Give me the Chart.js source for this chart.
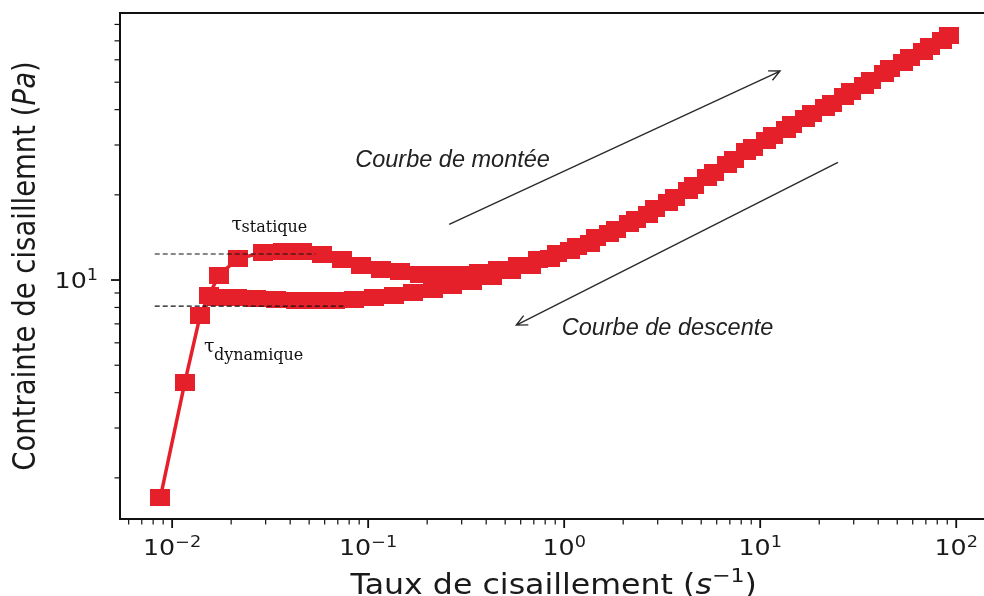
<!DOCTYPE html>
<html lang="fr">
<head>
<meta charset="utf-8">
<title>Contrainte de cisaillement</title>
<script src="https://cdn.jsdelivr.net/npm/chart.js@4.4.1/dist/chart.umd.min.js"></script>
<style>
  html, body { margin: 0; padding: 0; background: #fff; overflow: hidden; }
  #wrap { width: 1000px; height: 596px; }
</style>
</head>
<body>
<div id="wrap"><canvas id="rheo" width="1000" height="596"></canvas></div>
<script>
// courbe de montée : taux de cisaillement (1/s) et contrainte (Pa)
let upRate = [0.0087, 0.0116, 0.0139, 0.0154, 0.0173, 0.0217, 0.0292, 0.0367, 0.0462, 0.0582,
  0.0733, 0.0923, 0.116, 0.146, 0.184, 0.232, 0.292, 0.367, 0.462, 0.582, 0.733, 0.923,
  1.16, 1.46, 1.84, 2.32, 2.92, 3.67, 4.62, 5.82, 7.33, 9.23,
  11.6, 14.6, 18.4, 23.2, 29.2, 36.7, 46.2, 58.2, 73.3, 92.3];
let upStress = [1.70, 4.34, 7.5, 8.8, 10.4, 11.9, 12.5, 12.6, 12.6, 12.3,
  11.8, 11.3, 10.9, 10.7, 10.5, 10.45, 10.45, 10.6, 10.9, 11.3, 11.8, 12.4,
  13.1, 14.1, 15.1, 16.4, 17.9, 19.6, 21.6, 24.0, 26.6, 29.5,
  32.4, 35.4, 38.8, 42.2, 46.3, 50.8, 55.7, 61.1, 67.1, 73.3];

// courbe de descente
let downRate = [85.1, 67.6, 53.7, 42.7, 33.9, 26.9, 21.4, 17.0, 13.5, 10.7,
  8.51, 6.76, 5.37, 4.27, 3.39, 2.69, 2.14, 1.70, 1.35, 1.07,
  0.851, 0.676, 0.537, 0.427, 0.339, 0.269, 0.214, 0.170, 0.135, 0.107,
  0.0851, 0.0676, 0.0537, 0.0427, 0.0339, 0.0269, 0.0214, 0.0170];
let downStress = [70.4, 64.4, 58.7, 53.5, 48.8, 44.4, 40.6, 37.2, 34.1, 31.1,
  28.4, 25.6, 23.0, 20.8, 18.8, 17.1, 15.8, 14.6, 13.5, 12.7,
  11.9, 11.3, 10.8, 10.3, 9.9, 9.55, 9.25, 9.0, 8.8, 8.65,
  8.52, 8.44, 8.44, 8.5, 8.55, 8.6, 8.65, 8.7];

// seuils statique / dynamique (lignes pointillées)
let staticLine = [[0.00815, 12.36], [0.0539, 12.36]];
let dynamicLine = [[0.00815, 8.09], [0.0747, 8.09]];

// axes
let xRange = [0.00542, 144.4];
let yRange = [1.431, 87.8];
let xMajor = [0.01, 0.1, 1, 10, 100];
let yMajor = [10];

// flèches et textes, en coordonnées des données
let upArrow = [[0.259, 15.74], [12.63, 54.76]];
let downArrow = [[24.92, 26.05], [0.570, 6.93]];
let upText = {x: 0.0859, y: 25.07, text: 'Courbe de montée'};
let downText = {x: 0.971, y: 6.39, text: 'Courbe de descente'};
let tauStatic = {x: 0.0201, y: 15.02, sub: 'statique'};
let tauDynamic = {x: 0.01452, y: 5.57, sub: 'dynamique'};

const RED = '#e6202a';
const INK = '#111';
const STRETCH = 1.15; // les textes des axes sont un peu élargis

// marqueur carré légèrement plus large que haut
let square = document.createElement('canvas');
square.width = 20;
square.height = 17;
let sq = square.getContext('2d');
sq.fillStyle = RED;
sq.fillRect(0, 0, 20, 17);

function pts(xs, ys) {
  return xs.map((x, i) => ({x: x, y: ys[i]}));
}

function logTicks(min, max, majors) {
  let ticks = [];
  for (let e = Math.floor(Math.log10(min)); e <= Math.ceil(Math.log10(max)); e++) {
    for (let n = 1; n <= 9; n++) {
      let v = n * Math.pow(10, e);
      if (v >= min && v <= max) {
        ticks.push({value: v, major: majors.some(m => Math.abs(m - v) / m < 1e-9)});
      }
    }
  }
  return ticks;
}

function expLabel(v) {
  return String(Math.round(Math.log10(v))).replace('-', '\u2212');
}

// suite de morceaux de texte {text, font, dy}
function drawRuns(ctx, runs, x, y, align) {
  let total = 0;
  runs.forEach(r => { ctx.font = r.font; r.w = ctx.measureText(r.text).width; total += r.w; });
  let left = align === 'center' ? x - total / 2 : (align === 'right' ? x - total : x);
  runs.forEach(r => {
    ctx.font = r.font;
    ctx.fillText(r.text, left, y + (r.dy || 0));
    left += r.w;
  });
}

function drawArrow(ctx, x0, y0, x1, y1) {
  let ang = Math.atan2(y1 - y0, x1 - x0);
  ctx.beginPath();
  ctx.moveTo(x0, y0);
  ctx.lineTo(x1, y1);
  ctx.moveTo(x1 - 12 * Math.cos(ang - 0.45), y1 - 12 * Math.sin(ang - 0.45));
  ctx.lineTo(x1, y1);
  ctx.lineTo(x1 - 12 * Math.cos(ang + 0.45), y1 - 12 * Math.sin(ang + 0.45));
  ctx.stroke();
}

const frame = {
  id: 'frame',
  afterDraw(chart) {
    let ctx = chart.ctx;
    let a = chart.chartArea;
    let x = chart.scales.x, y = chart.scales.y;
    ctx.save();

    // cadre du haut
    ctx.strokeStyle = INK;
    ctx.lineWidth = 2;
    ctx.beginPath();
    ctx.moveTo(a.left - 1, a.top);
    ctx.lineTo(a.right, a.top);
    ctx.stroke();

    // graduations
    x.ticks.forEach(t => {
      let px = x.getPixelForValue(t.value);
      ctx.lineWidth = t.major ? 1.8 : 1.2;
      ctx.beginPath();
      ctx.moveTo(px, a.bottom);
      ctx.lineTo(px, a.bottom + (t.major ? 9 : 5.5));
      ctx.stroke();
    });
    y.ticks.forEach(t => {
      let py = y.getPixelForValue(t.value);
      ctx.lineWidth = t.major ? 1.8 : 1.2;
      ctx.beginPath();
      ctx.moveTo(a.left, py);
      ctx.lineTo(a.left - (t.major ? 9 : 5.5), py);
      ctx.stroke();
    });

    // étiquettes 10^n
    ctx.fillStyle = '#1a1a1a';
    ctx.textBaseline = 'alphabetic';
    ctx.textAlign = 'left';
    x.ticks.filter(t => t.major).forEach(t => {
      ctx.save();
      ctx.translate(x.getPixelForValue(t.value), a.bottom + 36);
      ctx.scale(STRETCH, 1);
      drawRuns(ctx, [
        {text: '10', font: '22px "DejaVu Sans"'},
        {text: expLabel(t.value), font: '15.4px "DejaVu Sans"', dy: -8}
      ], 0, 0, 'center');
      ctx.restore();
    });
    y.ticks.filter(t => t.major).forEach(t => {
      ctx.save();
      ctx.translate(a.left - 22, y.getPixelForValue(t.value) + 8);
      ctx.scale(STRETCH, 1);
      drawRuns(ctx, [
        {text: '10', font: '22px "DejaVu Sans"'},
        {text: expLabel(t.value), font: '15.4px "DejaVu Sans"', dy: -8}
      ], 0, 0, 'right');
      ctx.restore();
    });

    // titres des axes
    ctx.save();
    ctx.translate((a.left + a.right) / 2, 594);
    ctx.scale(STRETCH, 1);
    drawRuns(ctx, [
      {text: 'Taux de cisaillement (', font: '27.5px "DejaVu Sans"'},
      {text: 's', font: 'oblique 27.5px "DejaVu Sans"'},
      {text: '\u22121', font: '19.3px "DejaVu Sans"', dy: -12},
      {text: ')', font: '27.5px "DejaVu Sans"'}
    ], 0, 0, 'center');
    ctx.restore();

    ctx.save();
    ctx.translate(35, (a.top + a.bottom) / 2);
    ctx.scale(STRETCH, 1);
    ctx.rotate(-Math.PI / 2);
    drawRuns(ctx, [
      {text: 'Contrainte de cisaillemnt (', font: '27.5px "DejaVu Sans"'},
      {text: 'Pa', font: 'oblique 27.5px "DejaVu Sans"'},
      {text: ')', font: '27.5px "DejaVu Sans"'}
    ], 0, 0, 'center');
    ctx.restore();

    // flèches
    ctx.strokeStyle = '#2a2a2a';
    ctx.lineWidth = 1.4;
    drawArrow(ctx, x.getPixelForValue(upArrow[0][0]), y.getPixelForValue(upArrow[0][1]),
      x.getPixelForValue(upArrow[1][0]), y.getPixelForValue(upArrow[1][1]));
    drawArrow(ctx, x.getPixelForValue(downArrow[0][0]), y.getPixelForValue(downArrow[0][1]),
      x.getPixelForValue(downArrow[1][0]), y.getPixelForValue(downArrow[1][1]));

    // textes
    ctx.fillStyle = '#222';
    ctx.font = 'italic 23.5px "Liberation Sans"';
    [upText, downText].forEach(t => {
      ctx.fillText(t.text, x.getPixelForValue(t.x), y.getPixelForValue(t.y));
    });

    ctx.fillStyle = INK;
    [tauStatic, tauDynamic].forEach((t, i) => {
      let px = x.getPixelForValue(t.x), py = y.getPixelForValue(t.y);
      ctx.font = '19px "DejaVu Serif"';
      ctx.fillText('\u03c4', px, py);
      ctx.font = '16px "DejaVu Serif"';
      ctx.fillText(t.sub, px + 10, py + (i === 0 ? 2 : 8));
    });

    ctx.restore();
  }
};

function logAxis(range, majors, pos, size) {
  return {
    type: 'logarithmic',
    position: pos,
    min: range[0],
    max: range[1],
    afterBuildTicks: s => { s.ticks = logTicks(range[0], range[1], majors); },
    afterFit: s => { if (pos === 'left') s.width = size; else s.height = size; },
    ticks: {display: false},
    grid: {display: false},
    border: {display: true, color: INK, width: 2}
  };
}

new Chart(document.getElementById('rheo'), {
  type: 'scatter',
  data: {
    datasets: [
      {
        label: 'statique',
        data: pts(staticLine.map(p => p[0]), staticLine.map(p => p[1])),
        showLine: true, borderColor: INK, borderWidth: 1.2, borderDash: [5, 3],
        pointRadius: 0, order: 0
      },
      {
        label: 'dynamique',
        data: pts(dynamicLine.map(p => p[0]), dynamicLine.map(p => p[1])),
        showLine: true, borderColor: INK, borderWidth: 1.2, borderDash: [5, 3],
        pointRadius: 0, order: 0
      },
      {
        label: 'Courbe de montée',
        data: pts(upRate, upStress),
        showLine: true, borderColor: RED, borderWidth: 3.5,
        pointStyle: square, pointRadius: 9, order: 1
      },
      {
        label: 'Courbe de descente',
        data: pts(downRate, downStress),
        showLine: true, borderColor: RED, borderWidth: 3.5,
        pointStyle: square, pointRadius: 9, order: 2
      }
    ]
  },
  options: {
    responsive: false,
    animation: false,
    events: [],
    layout: {padding: {top: 13, right: 6, left: 0, bottom: 0}},
    plugins: {legend: {display: false}, tooltip: {enabled: false}},
    scales: {
      x: logAxis(xRange, xMajor, 'bottom', 77),
      y: logAxis(yRange, yMajor, 'left', 120)
    }
  },
  plugins: [frame]
});
</script>
</body>
</html>
